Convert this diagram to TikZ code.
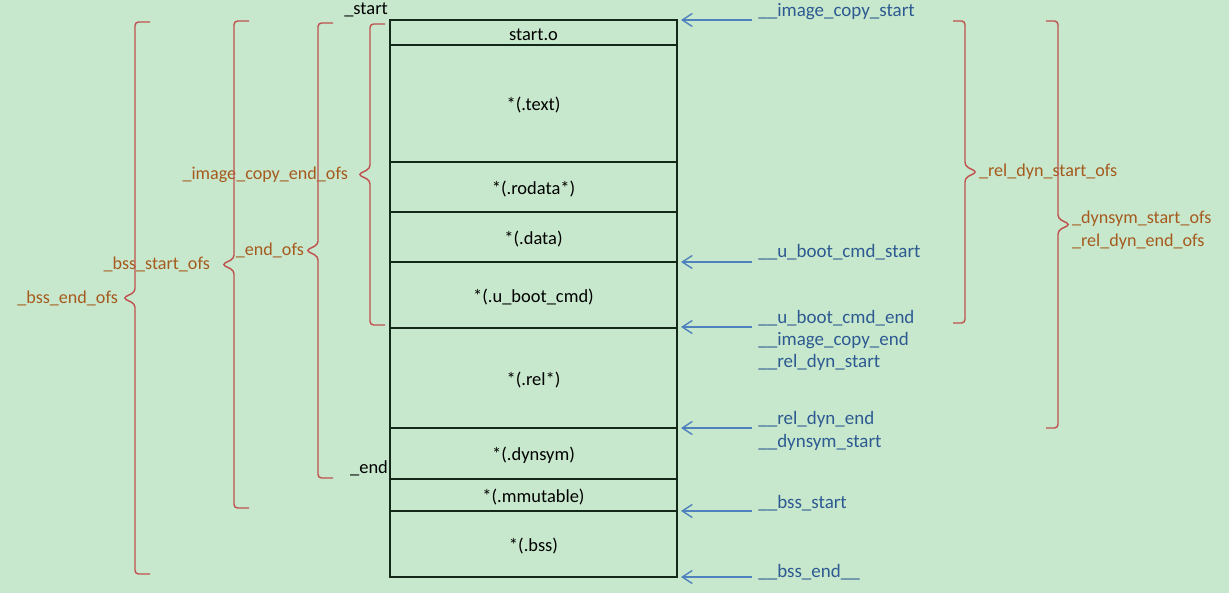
\documentclass[tikz,border=0pt]{standalone}
\usepackage{fontspec}
\setmainfont{Carlito}
\usetikzlibrary{arrows.meta}

\definecolor{bggreen}{RGB}{200,232,205}
\definecolor{boxline}{RGB}{20,40,25}
\definecolor{bracered}{RGB}{192,80,77}
\definecolor{ofscolor}{RGB}{165,90,30}
\definecolor{arrowblue}{RGB}{79,129,189}
\definecolor{symblue}{RGB}{45,90,145}

\tikzset{
    sect/.style={draw=boxline,line width=0.9pt},
    brc/.style={draw=bracered,line width=0.8pt,rounded corners=0.7mm},
    olab/.style={text=ofscolor,inner sep=1pt,font=\fontsize{10.3pt}{12.8pt}\selectfont},
    blab/.style={text=symblue,inner sep=0pt,align=left,font=\fontsize{10.8pt}{12.8pt}\selectfont},
    ptr/.style={draw=arrowblue,line width=0.8pt,-{Straight Barb[length=2mm,width=2.6mm]}},
}

% left brace: x, top, bottom, name of tip
\newcommand{\lbrc}[4]{%
    \draw[brc] (#1+15,#2) -- (#1,#2) -- (#1,{(#2+#3)/2-6}) -- (#1-12,{(#2+#3)/2})
        -- (#1,{(#2+#3)/2+6}) -- (#1,#3) -- (#1+15,#3);
    \coordinate (#4) at (#1-12,{(#2+#3)/2});
}
% right brace
\newcommand{\rbrc}[4]{%
    \draw[brc] (#1-12,#2) -- (#1,#2) -- (#1,{(#2+#3)/2-6}) -- (#1+12,{(#2+#3)/2})
        -- (#1,{(#2+#3)/2+6}) -- (#1,#3) -- (#1-12,#3);
    \coordinate (#4) at (#1+12,{(#2+#3)/2});
}

\begin{document}
\begin{tikzpicture}[x=0.2mm,y=-0.2mm,font=\fontsize{10.5pt}{12.8pt}\selectfont]
    \fill[bggreen] (0,0) rectangle (1229,593);
    \useasboundingbox (0,0) rectangle (1229,593);

    % sections of the image
    \foreach \ya/\yb/\txt/\nm in {20/45/start.o/so,45/162/*(.text)/text,
        162/212/*(.rodata*)/rodata,212/262/*(.data)/data,262/328/*(.u\_boot\_cmd)/ubc,
        328/428/*(.rel*)/rel,428/479/*(.dynsym)/dynsym,479/511/*(.mmutable)/mmut,
        511/577/*(.bss)/bss}{
        \draw[sect] (390,\ya) rectangle (677,\yb);
        \node (\nm) at (533.5,{(\ya+\yb)/2+2}) {\txt};
    }
    \node[anchor=east,inner sep=1pt] (start) at (390,10) {\_start};
    \node[anchor=east,inner sep=1pt] (end) at (390,468) {\_end};

    % symbols pointing at the boundaries (last field: baseline of the last line)
    \foreach \y/\txt/\nm/\yl in {20/{\_\_image\_copy\_start}/ics/17,
        262/{\_\_u\_boot\_cmd\_start}/ubs/258,
        327/{\_\_u\_boot\_cmd\_end\\\_\_image\_copy\_end\\\_\_rel\_dyn\_start}/ube/368,
        428/{\_\_rel\_dyn\_end\\\_\_dynsym\_start}/rde/447,
        511/{\_\_bss\_start}/bs/508,577/{\_\_bss\_end\_\_}/be/577}{
        \coordinate (\nm-s) at (752,\y);
        \coordinate (\nm-e) at (681,\y);
        \draw[ptr] (\nm-s) -- (\nm-e);
        \node[blab,anchor=base west] (\nm) at (758,\yl) {\txt};
    }

    % offsets on the left
    \lbrc{370}{24}{325}{t1}
    \node[olab,anchor=east,xshift=-1.6mm] (iceo) at (t1) {\_image\_copy\_end\_ofs};
    \lbrc{318}{23}{478}{t2}
    \node[olab,anchor=east] (eo) at (t2) {\_end\_ofs};
    \lbrc{234}{21}{508}{t3}
    \node[olab,anchor=east,xshift=-2mm] (bso) at (t3) {\_bss\_start\_ofs};
    \lbrc{135}{22}{574}{t4}
    \node[olab,anchor=east,xshift=-0.6mm] (beo) at (t4) {\_bss\_end\_ofs};

    % offsets on the right
    \rbrc{965}{21}{323}{t5}
    \node[olab,anchor=west] (rdso) at (t5) {\_rel\_dyn\_start\_ofs};
    \rbrc{1058}{21}{428}{t6}
    \node[olab,anchor=west,align=left,yshift=-1.1mm] (dso) at (t6) {\_dynsym\_start\_ofs\\\_rel\_dyn\_end\_ofs};
\end{tikzpicture}
\end{document}
